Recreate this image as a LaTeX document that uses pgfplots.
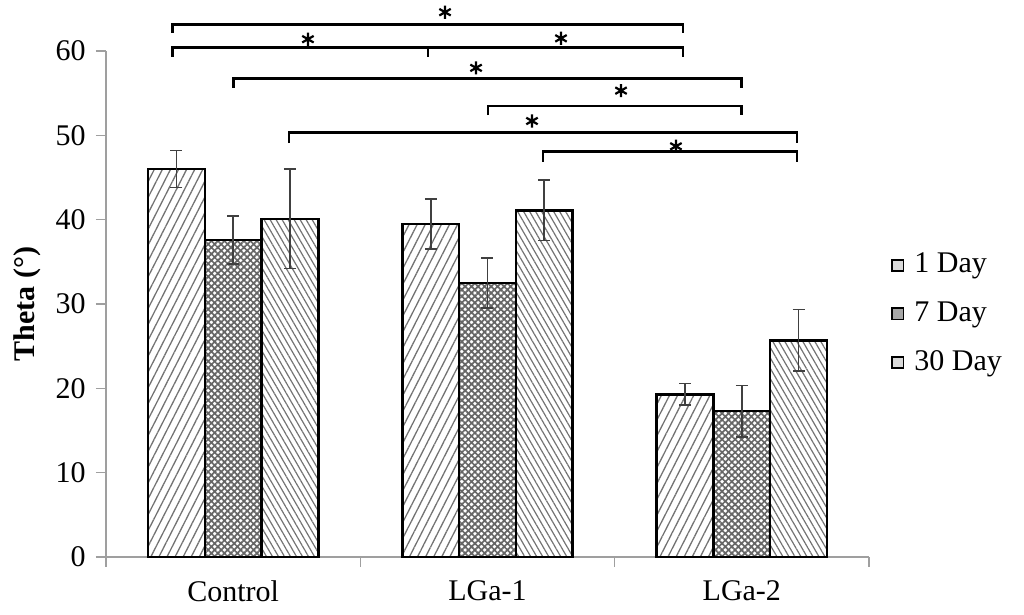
\documentclass[border=0pt]{standalone}
\usepackage{fontspec}
\setmainfont{Liberation Serif}
\usepackage{pgfplots}
\pgfplotsset{compat=1.18}
\usetikzlibrary{patterns.meta}
\begin{document}
\fontsize{15}{18}\selectfont
\begin{tikzpicture}
\begin{axis}[
  at={(0,0)}, anchor=south west,
  scale only axis, width=381.5pt, height=253pt,
  xmin=-0.5, xmax=2.5, ymin=0, ymax=60,
  clip=false,
  axis x line*=bottom, axis y line*=left,
  axis line style={draw=gray!75, line width=0.6pt},
  tick style={draw=gray!75, line width=0.6pt},
  tick align=outside, major tick length=5pt,
  xtick={-0.5,0.5,1.5,2.5}, xticklabels={},
  extra x ticks={0,1,2}, extra x tick labels={Control,LGa-1,LGa-2},
  extra x tick style={major tick length=0pt, xticklabel style={yshift=-6.5pt}},
  ytick={0,10,...,60},
  /pgf/number format/assume math mode=true,
  ticklabel style={font=\fontsize{15}{18}\selectfont},
  ylabel={\textbf{Theta (°)}},
  ylabel style={at={(axis description cs:-0.1035,0.5)}, anchor=center, font=\fontsize{15}{18}\selectfont},
  legend style={at={(1.021,0.617)}, anchor=north west, draw=none, fill=none,
    font=\fontsize{15}{18}\selectfont, row sep=8.2pt, nodes={inner xsep=5pt}},
  legend cell align=left,
  error bars/error bar style={line width=0.75pt, color=black!75},
  error bars/error mark options={rotate=90, mark size=3pt, line width=0.75pt, color=black!75},
]
% 1 Day
\addplot[ybar, bar width=0.223, bar shift=0, draw=black, line width=1.3pt,
  pattern={Lines[angle=63, distance=3.6pt, line width=0.65pt]}, pattern color=black!55, forget plot,
  error bars/.cd, y dir=both, y explicit]
  coordinates {(-0.223,46.0) +- (0,2.2) (0.777,39.5) +- (0,2.95) (1.777,19.3) +- (0,1.3)};
% 7 Day
\addplot[ybar, bar width=0.223, bar shift=0, draw=black, line width=1.3pt,
  pattern={Hatch[angle=45, distance=2.3pt, line width=0.85pt]}, pattern color=black!60, forget plot,
  error bars/.cd, y dir=both, y explicit]
  coordinates {(0,37.6) +- (0,2.85) (1,32.5) +- (0,2.95) (2,17.3) +- (0,3.05)};
% 30 Day
\addplot[ybar, bar width=0.223, bar shift=0, draw=black, line width=1.3pt,
  pattern={Lines[angle=-60, distance=2.6pt, line width=0.6pt]}, pattern color=black!55, forget plot,
  error bars/.cd, y dir=both, y explicit]
  coordinates {(0.223,40.1) +- (0,5.9) (1.223,41.1) +- (0,3.6) (2.223,25.7) +- (0,3.65)};
% significance brackets
\addplot[black, line width=1.4pt, forget plot] coordinates {(-0.237,62.14) (-0.237,63.17) (1.769,63.17) (1.769,62.14)};
\addplot[black, line width=1.4pt, forget plot] coordinates {(-0.237,59.30) (-0.237,60.44) (1.769,60.44) (1.769,59.30)};
\addplot[black, line width=1.4pt, forget plot] coordinates {(0.766,60.44) (0.766,59.30)};
\addplot[black, line width=1.4pt, forget plot] coordinates {(0.0,55.62) (0.0,56.77) (2.0,56.77) (2.0,55.62)};
\addplot[black, line width=1.4pt, forget plot] coordinates {(1.002,52.40) (1.002,53.48) (2.0,53.48) (2.0,52.40)};
\addplot[black, line width=1.4pt, forget plot] coordinates {(0.2195,49.09) (0.2195,50.31) (2.217,50.31) (2.217,49.09)};
\addplot[black, line width=1.4pt, forget plot] coordinates {(1.218,46.84) (1.218,48.06) (2.217,48.06) (2.217,46.84)};
% stars
\addplot[only marks, mark=asterisk, mark size=3.3pt, black, mark options={line width=1.1pt}, forget plot]
  coordinates {(0.833,64.6) (0.294,61.4) (1.289,61.5) (0.955,58.0) (1.525,55.3) (1.175,51.7) (1.741,48.7)};
% legend
\addlegendimage{legend image code/.code={\draw[black, line width=0.9pt, fill=black!15] (0pt,-2.8pt) rectangle (5.6pt,2.8pt);}}
\addlegendentry{1 Day}
\addlegendimage{legend image code/.code={\draw[black, line width=0.9pt, fill=black!35] (0pt,-2.8pt) rectangle (5.6pt,2.8pt);}}
\addlegendentry{7 Day}
\addlegendimage{legend image code/.code={\draw[black, line width=0.9pt, fill=black!15] (0pt,-2.8pt) rectangle (5.6pt,2.8pt);}}
\addlegendentry{30 Day}
\end{axis}
\pgfresetboundingbox
\path[use as bounding box] (-53pt,-29pt) rectangle (459pt,278.5pt);
\end{tikzpicture}
\end{document}
